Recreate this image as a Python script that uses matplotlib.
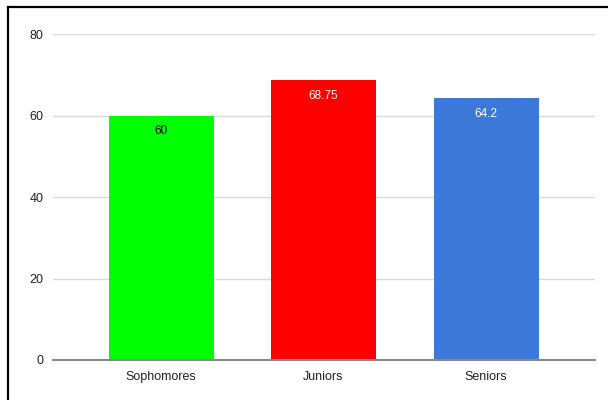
import matplotlib
matplotlib.use("Agg")
import matplotlib.pyplot as plt
from matplotlib.lines import Line2D

categories = ["Sophomores", "Juniors", "Seniors"]
values = [60, 68.75, 64.2]
bar_colors = ["#00ff00", "#ff0000", "#3c78d8"]
label_colors = ["#000000", "#ffffff", "#ffffff"]
value_labels = ["60", "68.75", "64.2"]
y_ticks = [0, 20, 40, 60, 80]

plt.rcParams["font.family"] = ["Liberation Sans", "DejaVu Sans"]

W, H = 608, 400
fig = plt.figure(figsize=(W / 100, H / 100), dpi=100)
ax = fig.add_axes([53 / W, 1 - 360 / H, (595 - 53) / W, (360 - 34) / H])

x = list(range(len(categories)))
bars = ax.bar(x, values, width=0.646, color=bar_colors, zorder=3)

for rect, lab, c in zip(bars, value_labels, label_colors):
    ax.annotate(lab, (rect.get_x() + rect.get_width() / 2, rect.get_height()),
                xytext=(0, -7), textcoords="offset points",
                ha="center", va="top", fontsize=8.5, color=c, zorder=4)

ax.set_xlim(-0.665, 2.67)
ax.set_ylim(0, 80)
ax.set_yticks(y_ticks)
ax.set_yticklabels([str(t) for t in y_ticks])
ax.set_xticks(x)
ax.set_xticklabels(categories)
ax.tick_params(axis="both", length=0, labelsize=9, colors="#222222")
ax.tick_params(axis="y", pad=7)
ax.tick_params(axis="x", pad=8)
ax.grid(axis="y", color="#d9d9d9", linewidth=1.0, zorder=0)
ax.set_axisbelow(True)
for s in ["top", "right", "left"]:
    ax.spines[s].set_visible(False)
ax.spines["bottom"].set_color("#888888")
ax.spines["bottom"].set_linewidth(1.5)
ax.spines["bottom"].set_zorder(5)

# frame lines along the top and left edges
fig.add_artist(Line2D([7.5 / W, 1], [1 - 7 / H, 1 - 7 / H], color="black",
                      linewidth=1.6, transform=fig.transFigure))
fig.add_artist(Line2D([7.5 / W, 7.5 / W], [0, 1 - 7 / H], color="black",
                      linewidth=1.6, transform=fig.transFigure))

fig.savefig("out.png", dpi=100, facecolor="white")
